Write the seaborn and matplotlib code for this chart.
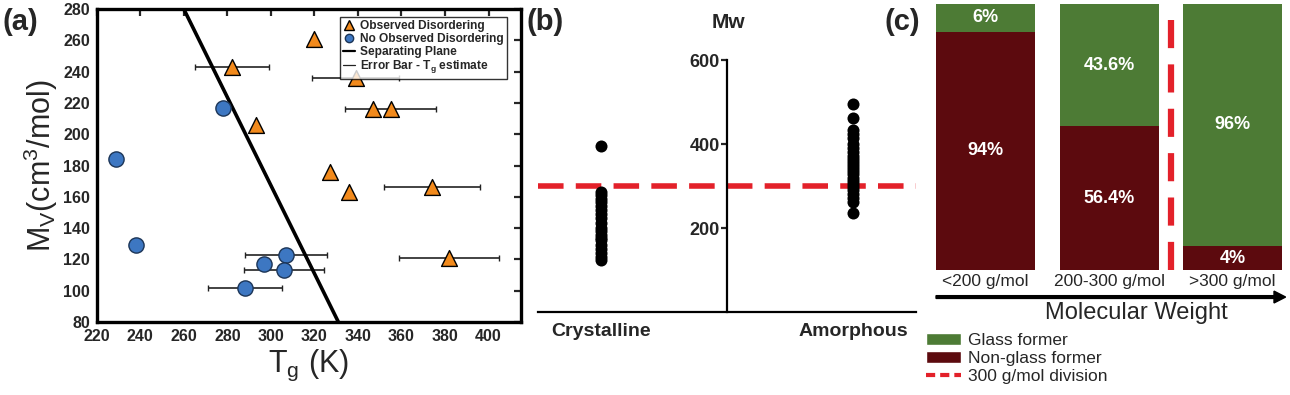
import numpy as np
import pandas as pd
import matplotlib
matplotlib.use('Agg')
import matplotlib.pyplot as plt
import seaborn as sns
from matplotlib.lines import Line2D
from matplotlib.patches import Patch, FancyArrow

# (a) Tg vs molar volume
obs_tg = [282, 320, 293, 339, 347, 355, 327, 336, 374, 382]
obs_mv = [243, 261, 206, 236, 216, 216, 176, 163, 166, 121]
obs_err = [17, 0, 0, 20, 0, 21, 0, 0, 22, 23]

none_tg = [278, 229, 238, 307, 297, 306, 288]
none_mv = [217, 184, 129, 123, 117, 113, 102]
none_err = [0, 0, 0, 19, 0, 18.5, 17]

sep_tg = [260, 331]
sep_mv = [280, 80]

# (b) molecular weight by state
cryst_mw = [396, 286, 278, 270, 262, 252, 243, 233, 223, 212, 200, 192, 184,
            176, 171, 160, 150, 140, 130, 124]
amorph_mw = [495, 463, 433, 425, 414, 400, 390, 380, 372, 365, 358, 350, 343,
             336, 328, 320, 313, 305, 298, 290, 280, 271, 262, 235]
mw_cut = 300

# (c) glass formers by molecular weight bin
bins = ['<200 g/mol', '200-300 g/mol', '>300 g/mol']
glass_share = [10.5, 46, 91]        # bar heights as drawn
glass_txt = ['6%', '43.6%', '96%']
nonglass_txt = ['94%', '56.4%', '4%']

ORANGE = '#f28a1c'
BLUE = '#3d77c2'
GREEN = '#4d7b35'
DARKRED = '#5c0a0e'
RED = '#e3212a'

sns.set_style('white')
plt.rcParams['font.family'] = ['Liberation Sans', 'DejaVu Sans']
plt.rcParams['mathtext.default'] = 'regular'

fig = plt.figure(figsize=(12.9, 3.95), dpi=100)

# ---------------- panel a ----------------
ax_a = fig.add_axes([0.075, 0.185, 0.329, 0.792])
for tg, mv, e in zip(obs_tg + none_tg, obs_mv + none_mv, obs_err + none_err):
    if e > 0:
        ax_a.errorbar(tg, mv, xerr=e, fmt='none', ecolor='#222222',
                      elinewidth=1.2, capsize=2.5, capthick=1.0, zorder=2)
sns.lineplot(x=sep_tg, y=sep_mv, color='black', lw=2.6, ax=ax_a, zorder=3)
df_obs = pd.DataFrame({'tg': obs_tg, 'mv': obs_mv})
df_none = pd.DataFrame({'tg': none_tg, 'mv': none_mv})
sns.scatterplot(data=df_obs, x='tg', y='mv', marker='^', s=130, color=ORANGE,
                edgecolor='black', linewidth=1.0, ax=ax_a, zorder=4)
sns.scatterplot(data=df_none, x='tg', y='mv', marker='o', s=120, color=BLUE,
                edgecolor='#1c3557', linewidth=1.0, ax=ax_a, zorder=4)
ax_a.set_xlim(220, 415)
ax_a.set_ylim(80, 280)
ax_a.set_xticks(np.arange(220, 401, 20))
ax_a.set_yticks(np.arange(80, 281, 20))
ax_a.tick_params(direction='in', length=5, width=1.6, top=True, right=True,
                 labelsize=11.5)
ax_a.tick_params(axis='x', pad=5)
ax_a.tick_params(axis='y', pad=5)
for lab in ax_a.get_xticklabels() + ax_a.get_yticklabels():
    lab.set_fontweight('bold')
for sp in ax_a.spines.values():
    sp.set_linewidth(2.4)
    sp.set_color('black')
ax_a.set_xlabel(r'T$_g$ (K)', fontsize=22, labelpad=3)
ax_a.set_ylabel(r'M$_V$(cm$^3$/mol)', fontsize=22, labelpad=2)

leg_handles = [
    Line2D([], [], marker='^', ls='none', color=ORANGE, mec='black', ms=6.5),
    Line2D([], [], marker='o', ls='none', color=BLUE, mec='#1c3557', ms=6),
    Line2D([], [], color='black', lw=1.6),
    Line2D([], [], color='#222222', lw=0.9),
]
leg_labels = ['Observed Disordering', 'No Observed Disordering',
              'Separating Plane', r'Error Bar - T$_g$ estimate']
leg = ax_a.legend(leg_handles, leg_labels, loc='upper right',
                  bbox_to_anchor=(0.967, 0.975), borderaxespad=0,
                  handlelength=1.0, handletextpad=0.4,
                  labelspacing=0.05, borderpad=0.3, frameon=True,
                  fancybox=False, edgecolor='black',
                  prop={'weight': 'bold', 'size': 8.6})
leg.get_frame().set_linewidth(1.0)

# ---------------- panel b ----------------
ax_b = fig.add_axes([0.4171, 0.2101, 0.2930, 0.638])
df_b = pd.DataFrame({
    'pos': [-1] * len(cryst_mw) + [1] * len(amorph_mw),
    'mw': cryst_mw + amorph_mw,
})
ax_b.axhline(mw_cut, color=RED, lw=4, dashes=(4.6, 2.2), zorder=1)
sns.scatterplot(data=df_b, x='pos', y='mw', color='black', s=75,
                edgecolor='black', linewidth=0, ax=ax_b, zorder=3)
ax_b.set_xlim(-1.5, 1.5)
ax_b.set_ylim(0, 600)
ax_b.spines['left'].set_position(('data', 0))
ax_b.spines['top'].set_visible(False)
ax_b.spines['right'].set_visible(False)
for sp in ('left', 'bottom'):
    ax_b.spines[sp].set_linewidth(1.6)
    ax_b.spines[sp].set_color('black')
ax_b.set_yticks([200, 400, 600])
ax_b.tick_params(axis='y', direction='out', length=4, width=1.6,
                 labelsize=13, left=True, pad=1)
ax_b.set_xticks([-1, 1], ['Crystalline', 'Amorphous'])
ax_b.tick_params(axis='x', length=0, labelsize=14, pad=8, bottom=False)
for lab in ax_b.get_xticklabels() + ax_b.get_yticklabels():
    lab.set_fontweight('bold')
ax_b.set_xlabel('')
ax_b.set_ylabel('')
fig.text(0.5645, 0.944, 'Mw', fontsize=15, fontweight='bold',
         ha='center', va='center')

# ---------------- panel c ----------------
ax_c = fig.add_axes([0.7256, 0.3165, 0.2683, 0.6735])
df_c = pd.DataFrame({'bin': bins, 'glass': glass_share,
                     'total': [100] * len(bins)})
df_c['nonglass'] = df_c['total'] - df_c['glass']
sns.barplot(data=df_c, x='bin', y='total', color=GREEN, width=0.8,
            saturation=1, linewidth=0, ax=ax_c)
sns.barplot(data=df_c, x='bin', y='nonglass', color=DARKRED, width=0.8,
            saturation=1, linewidth=0, ax=ax_c)
for i, row in df_c.iterrows():
    ax_c.text(i, row['nonglass'] + row['glass'] / 2, glass_txt[i],
              color='white', fontsize=13, fontweight='bold',
              ha='center', va='center')
    ax_c.text(i, row['nonglass'] / 2, nonglass_txt[i],
              color='white', fontsize=13, fontweight='bold',
              ha='center', va='center')
ax_c.axvline(1.5, color=RED, lw=4.5, dashes=(4.5, 2.6))
ax_c.set_xlim(-0.4, 2.4)
ax_c.set_ylim(0, 100)
ax_c.set_yticks([])
ax_c.tick_params(axis='x', length=0, labelsize=12.5, pad=3)
for sp in ax_c.spines.values():
    sp.set_visible(False)
ax_c.set_xlabel('')
ax_c.set_ylabel('')

fig.patches.append(FancyArrow(
    0.7256, 0.248, 0.262, 0, width=0.007, head_width=0.03,
    head_length=0.009, color='black', transform=fig.transFigure,
    length_includes_head=False))
fig.text(0.881, 0.207, 'Molecular Weight', fontsize=17,
         ha='center', va='center')

c_handles = [Patch(facecolor=GREEN), Patch(facecolor=DARKRED),
             Line2D([], [], color=RED, lw=3, dashes=(2.2, 1.2))]
fig.legend(c_handles, ['Glass former', 'Non-glass former',
                       '300 g/mol division'],
           loc='upper left', bbox_to_anchor=(0.718, 0.158), frameon=False,
           fontsize=12.5, handlelength=2.0, handleheight=0.75,
           handletextpad=0.4, labelspacing=0.15, borderpad=0,
           borderaxespad=0)

# panel tags
fig.text(0.002, 0.944, '(a)', fontsize=21, fontweight='bold', va='center')
fig.text(0.408, 0.944, '(b)', fontsize=21, fontweight='bold', va='center')
fig.text(0.686, 0.944, '(c)', fontsize=21, fontweight='bold', va='center')

fig.savefig('out.png', dpi=100)
